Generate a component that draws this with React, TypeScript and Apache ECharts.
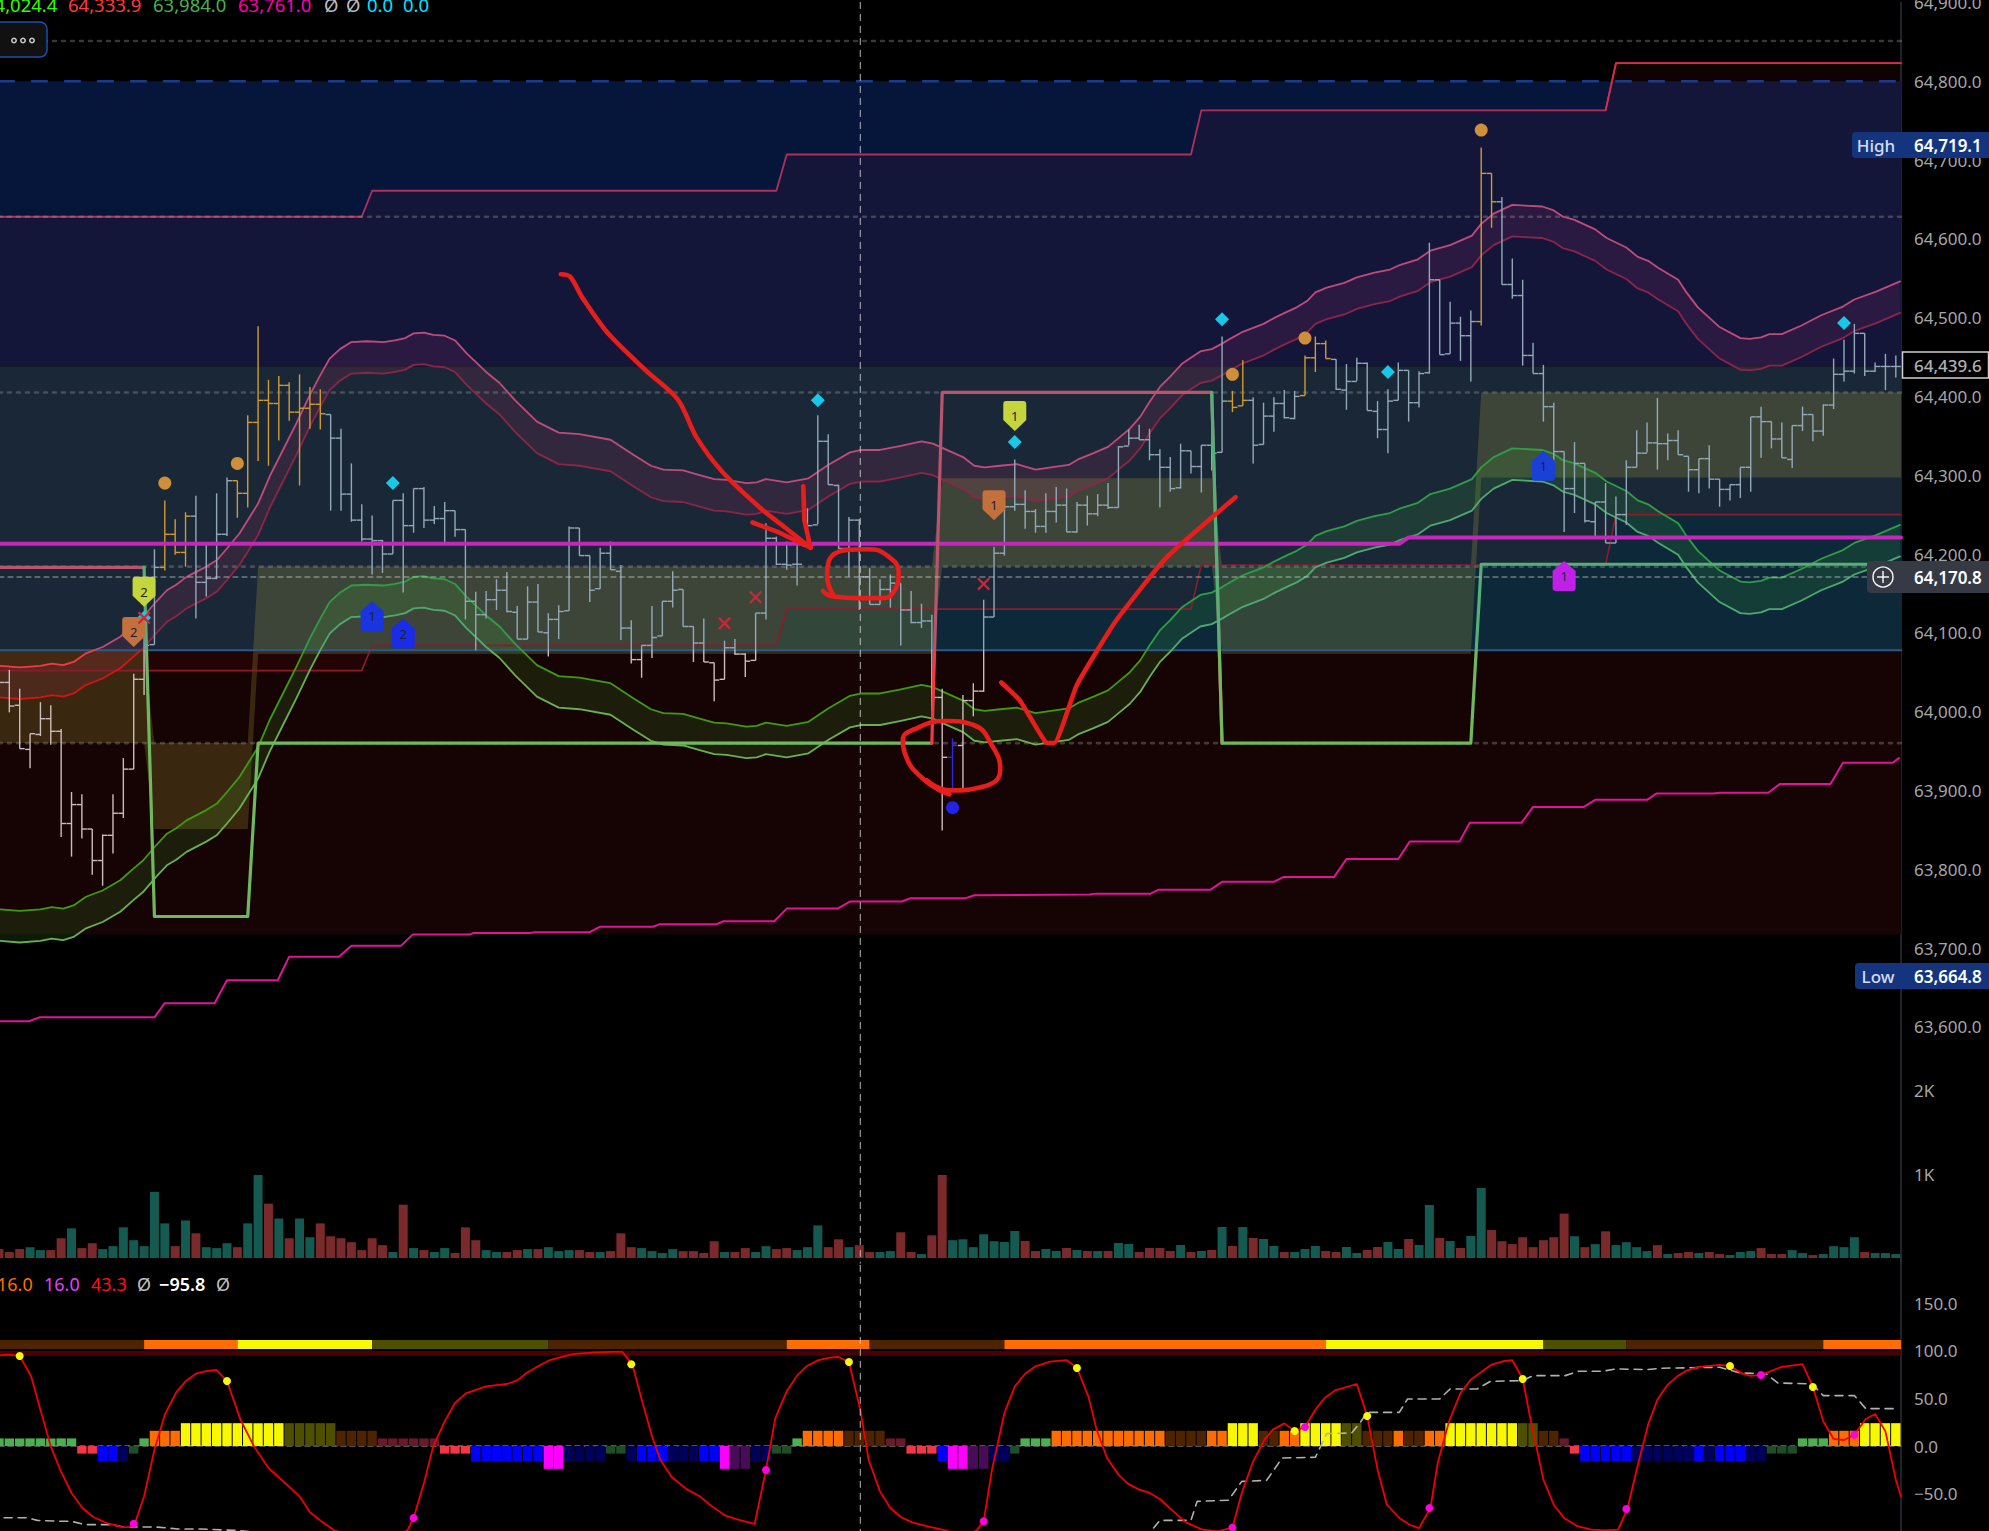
import React, { useEffect, useRef } from "react";
import * as echarts from "echarts";

const opens = [64040,64037,64008,63952,63971,63991,63975,63858,63882,63851,63811,63843,63871,63927,64041,64085,
64183,64225,64202,64248,64164,64169,64225,64293,64277,64367,64395,64391,64414,64380,64385,64390,
64377,64347,64276,64243,64219,64217,64200,64268,64236,64283,64243,64245,64255,64231,64140,64123,64142,
64154,64126,64092,64139,64100,64117,64128,64233,64198,64156,64201,64178,64106,64066,64084,64096,64140,64155,64108,64087,64062,64041,64081,64073,64065,64125,64220,64187,64187,64210,64237,64343,64287,64207,64243,64171,64136,64155,64163,64129,64113,64115,64018,63942,63957,64014,64026,64120,
64201,64260,64263,64254,64235,64254,64262,64228,64262,64251,64262,64259,64337,64347,64345,64326,64310,64284,64331,64311,64338,64329,64394,64388,64395,64339,64375,64391,64372,64401,64449,64467,64447,64408,64419,64442,64381,64358,64395,64433,64392,64430,64548,64454,64493,64477,64495,64683,
64647,64542,64528,64452,64429,64387,64330,64283,64315,64241,64266,64214,64250,64310,64328,64341,64340,64344,64324,64307,64321,64295,64282,64288,64310,64374,64368,64346,64320,64363,64377,64356,64389,64428,64432,64480,64432,64438,64438];
const highs = [64060,64053,64029,63972,64012,64008,63978,63898,63895,63851,63844,63895,63941,64048,64098,64206,
64268,64244,64253,64274,64213,64277,64297,64293,64376,64489,64421,64426,64418,64428,64412,64409,
64377,64359,64315,64263,64249,64218,64268,64277,64283,64285,64261,64266,64255,64231,64152,64153,64168,
64177,64134,64159,64162,64125,64135,64235,64233,64198,64208,64216,64186,64116,64084,64134,64140,64178,64155,64108,64118,64062,64090,64092,64074,64125,64239,64222,64216,64213,64258,64376,64352,64288,64247,64244,64182,64168,64174,64163,64153,64137,64123,64029,63966,64021,64036,64142,64209,
64270,64320,64281,64257,64277,64285,64283,64266,64274,64276,64290,64337,64358,64364,64359,64333,64323,64340,64331,64338,64368,64476,64407,64446,64399,64392,64399,64408,64407,64452,64476,64471,64447,64441,64449,64443,64394,64409,64443,64433,64432,64595,64548,64520,64501,64509,64716,64683,
64653,64575,64548,64468,64440,64392,64330,64342,64315,64266,64290,64273,64319,64357,64367,64398,64353,64357,64324,64321,64338,64295,64288,64310,64374,64387,64368,64367,64363,64387,64377,64390,64448,64472,64492,64480,64443,64454,64452];
const lows = [64020,63999,63953,63928,63969,63958,63841,63816,63839,63793,63779,63820,63865,63927,64021,64085,
64179,64199,64184,64118,64146,64168,64223,64246,64259,64318,64312,64344,64369,64287,64359,64358,
64255,64255,64241,64216,64174,64176,64200,64151,64227,64233,64238,64212,64222,64117,64078,64118,64129,
64126,64092,64092,64101,64070,64092,64128,64198,64139,64156,64180,64091,64061,64043,64068,64096,64132,64108,64063,64063,64013,64041,64072,64044,64065,64117,64186,64180,64160,64209,64238,64288,64207,64171,64129,64136,64136,64132,64084,64112,64106,64000,63849,63903,63903,63994,64025,64120,
64198,64255,64232,64227,64227,64240,64228,64227,64236,64248,64257,64259,64338,64345,64319,64259,64279,64283,64302,64278,64306,64329,64380,64388,64315,64339,64355,64372,64371,64401,64431,64448,64408,64383,64420,64382,64347,64328,64395,64368,64386,64429,64453,64454,64445,64419,64490,64614,
64542,64524,64439,64429,64368,64312,64228,64252,64240,64219,64214,64214,64237,64310,64329,64307,64319,64326,64279,64277,64283,64260,64268,64271,64279,64322,64334,64322,64309,64356,64343,64350,64384,64419,64429,64426,64431,64408,64424];
const closes = [64037,64007,63953,63972,63991,63975,63858,63882,63851,63811,63843,63871,63927,64041,64084,64183,
64225,64202,64248,64164,64169,64225,64293,64277,64367,64395,64391,64414,64380,64385,64390,64378,
64347,64276,64243,64219,64217,64200,64268,64236,64283,64243,64245,64255,64231,64140,64123,64142,64154,
64127,64092,64139,64101,64117,64127,64233,64198,64154,64201,64180,64106,64066,64084,64094,64140,64154,64108,64087,64063,64040,64081,64073,64064,64125,64220,64187,64186,64187,64236,64343,64288,64207,64243,64171,64136,64155,64163,64129,64113,64115,64018,63942,63957,64014,64026,64120,64201,
64260,64263,64254,64235,64254,64262,64228,64262,64251,64262,64259,64336,64347,64345,64326,64310,64283,64331,64311,64338,64328,64394,64386,64395,64338,64375,64391,64373,64400,64449,64467,64448,64409,64419,64442,64382,64358,64394,64433,64392,64429,64548,64453,64493,64477,64495,64683,64647,
64542,64528,64452,64429,64387,64330,64283,64315,64242,64266,64214,64250,64310,64328,64341,64340,64344,64326,64307,64321,64295,64282,64288,64310,64374,64368,64346,64322,64363,64377,64356,64389,64428,64432,64480,64432,64438,64438,64438];
const volumes = [106,71,106,129,94,94,235,353,118,176,106,141,365,212,141,788,412,141,447,294,129,118,176,129,412,988,647,470,235,470,247,412,259,235,188,94,235,153,71,635,118,94,71,118,59,365,212,94,71,71,94,106,106,129,82,94,94,71,71,82,294,129,118,82,59,106,82,82,59,200,71,71,118,71,141,106,118,94,129,388,129,223,129,153,71,71,82,306,71,47,270,988,212,223,129,282,200,
191,322,202,83,107,83,119,95,83,83,83,179,167,71,119,119,83,155,71,83,95,369,143,369,238,226,143,71,71,107,143,83,71,131,60,95,131,191,107,226,155,631,238,202,119,262,834,333,
200,165,247,129,212,247,529,259,129,165,318,153,188,129,82,153,47,59,71,59,71,47,35,71,82,118,47,47,94,59,35,47,141,129,247,71,59,59,47];
const orangeBars = [16,17,18,23,24,25,26,27,28,29,30,31,119,120,126,127,128,143,144];
const blueBars = [92];

const bandK = [0.1,2,4,5.1,6.2,7.2,8.4,10,11.7,13,13.9,15.2,16.2,17.1,18.1,20,21,22,23.2,25,26.1,27.4,28.7,30,31,31.9,32.9,34,35.5,37.1,38.2,39.2,40,41,41.9,43,44,45.1,47,48.3,
49.8,51.9,54,56,59,61.2,62.9,64.1,66,67.6,69,70.2,72.1,73.1,74,76,78.1,80,82.1,83.2,85,86.9,89,90.1,93,94.1,95.1,96.6,
98.2,100,102,103.2,104.1,105.6,107,108.1,109.1,110.1,111,112,113,114.1,115.1,115.9,117,118,118.9,120,122,123.1,124.2,125.2,126.2,127,128.1,129.8,131,132.7,134.2,135.2,136.9,138.1,140,142.1,143,144.2,
146,148.9,150,150.9,152,154,155.1,157,158.1,159.1,160.1,162,162.8,163.9,166,168,168.9,170,170.8,172,173.9,175.8,177.9,179,181.1,183.4];
const pinkUpper = [64058,64056,64058,64061,64059,64063,64074,64082,64095,64110,64120,64140,64154,64161,64171,64184,64192,64207,64226,64264,64298,64332,64366,64402,64427,64448,64460,64469,64470,64469,64471,64474,64480,64481,64478,64477,64471,64455,64431,64417,
64395,64368,64354,64352,64345,64326,64312,64307,64306,64300,64295,64294,64290,64291,64295,64291,64296,64313,64329,64332,64332,64337,64343,64340,64323,64312,64310,64312,
64314,64307,64311,64313,64320,64328,64336,64348,64359,64374,64393,64412,64425,64441,64450,64457,64460,64467,64474,64482,64492,64500,64507,64513,64521,64532,64538,64544,64551,64557,64561,64567,64574,64585,64592,64604,64619,64632,
64643,64641,64636,64628,64624,64612,64601,64589,64577,64572,64563,64548,64532,64513,64488,64474,64473,64475,64479,64479,64490,64503,64514,64523,64533,64546];
const pinkLower = [64018,64016,64018,64021,64019,64023,64034,64042,64055,64070,64080,64100,64114,64121,64131,64144,64152,64167,64186,64224,64258,64292,64326,64362,64387,64408,64420,64429,64430,64429,64431,64434,64440,64441,64438,64437,64431,64415,64391,64377,
64355,64328,64314,64312,64305,64286,64272,64267,64266,64260,64255,64254,64250,64251,64255,64251,64256,64273,64289,64292,64292,64297,64303,64300,64283,64272,64270,64272,
64274,64267,64271,64273,64280,64288,64296,64308,64319,64334,64353,64372,64385,64401,64410,64417,64420,64427,64434,64442,64452,64460,64467,64473,64481,64492,64498,64504,64511,64517,64521,64527,64534,64545,64552,64564,64579,64592,
64603,64601,64596,64588,64584,64572,64561,64549,64537,64532,64523,64508,64492,64473,64448,64434,64433,64435,64439,64439,64450,64463,64474,64483,64493,64506];
const greenUpper = [63749,63747,63749,63752,63750,63754,63765,63773,63786,63801,63811,63831,63845,63852,63862,63875,63883,63898,63917,63955,63989,64023,64057,64093,64118,64139,64151,64160,64161,64160,64162,64165,64171,64172,64169,64168,64162,64146,64122,64108,
64086,64059,64045,64043,64036,64017,64003,63998,63997,63991,63986,63985,63981,63982,63986,63982,63987,64004,64020,64023,64023,64028,64034,64031,64014,64003,64001,64003,
64005,63998,64002,64004,64011,64019,64027,64039,64050,64065,64084,64103,64116,64132,64141,64148,64151,64158,64165,64173,64183,64191,64198,64204,64212,64223,64229,64235,64242,64248,64252,64258,64265,64276,64283,64295,64310,64323,
64334,64332,64327,64319,64315,64303,64292,64280,64268,64263,64254,64239,64223,64204,64179,64165,64164,64166,64170,64170,64181,64194,64205,64214,64224,64237];
const greenLower = [63709,63707,63709,63712,63710,63714,63725,63733,63746,63761,63771,63791,63805,63812,63822,63835,63843,63858,63877,63915,63949,63983,64017,64053,64078,64099,64111,64120,64121,64120,64122,64125,64131,64132,64129,64128,64122,64106,64082,64068,
64046,64019,64005,64003,63996,63977,63963,63958,63957,63951,63946,63945,63941,63942,63946,63942,63947,63964,63980,63983,63983,63988,63994,63991,63974,63963,63961,63963,
63965,63958,63962,63964,63971,63979,63987,63999,64010,64025,64044,64063,64076,64092,64101,64108,64111,64118,64125,64133,64143,64151,64158,64164,64172,64183,64189,64195,64202,64208,64212,64218,64225,64236,64243,64255,64270,64283,
64294,64292,64287,64279,64275,64263,64252,64240,64228,64223,64214,64199,64183,64164,64139,64125,64124,64126,64130,64130,64141,64154,64165,64174,64184,64197];

const stepK = [0,35,36,75,76,115,116,155,156,183.5];
const resistance = [64628,64628,64661,64661,64707,64707,64763,64763,64823,64823];
const support = [64052,64052,64084,64084,64130,64130,64186,64186,64250,64250];
const boxK = [0,14,15,24,25,90,91,117,118,142,143,183.5];
const boxTop = [64078,64078,63960,63960,64184,64184,64296,64296,64184,64184,64405,64405];
const boxBottom = [63960,63960,63851,63851,64073,64073,64184,64184,64073,64073,64297,64297];
const trendLine = [64183,64183,63740,63740,63960,63960,64405,64405,63960,63960,64187,64187];
const slowK = [0,2.9,3.9,15,16,20.8,22,26.9,28,32.8,34,38.8,39.9,45.4,45.8,51.2,51.7,57,58,63.1,63.7,69.2,69.9,74.8,76,80.9,82.1,87.1,87.9,93.2,94.1,105.2,105.8,111.1,111.9,116.9,118,123,123.9,128.8,130,135,136.1,140.9,141.9,146.9,148,152.9,154,159,159.9,165.4,166,170.7,171.8,176.7,177.9,182.7,183.3];
const slowLine = [63607,63607,63612,63612,63630,63630,63659,63659,63689,63689,63703,63703,63717,63717,63719,63719,63720,63720,63727,63727,63730,63730,63734,63734,63750,63750,63759,63759,63763,63763,63767,63768,63769,63769,63774,63774,63784,63784,63790,63790,63813,63813,63835,63835,63859,63859,63879,63879,63888,63888,63896,63896,63897,63897,63908,63908,63935,63935,63941];
const midK = [0,135.1,136,183.5];
const midLine = [64213,64213,64221,64221];
const dottedLevels = [64851,64628,64405,64184,63960];

const goldK = [16,23,119,126,143];
const goldP = [64290,64315,64428,64474,64738];
const diamondK = [14,38,79,98,118,134,178];
const diamondP = [64119,64290,64395,64342,64498,64431,64493];
const crossK = [0,14,70,73,95];
const crossP = [64078,64119,64112,64145,64162];
const lowDotK = [92];
const lowDotP = [63878];
const pinLabels = ["2","2","1","1"];
const pinK = [14,13,98,96];
const pinP = [64152,64101,64375,64262];
const pinColors = ["#c4d63c","#c4703c","#c4d63c","#c4703c"];
const houseLabels = ["1","2","1","1"];
const houseK = [36,39,149,151];
const houseP = [64121,64099,64312,64172];
const houseColors = ["#1a34e0","#1a2ce8","#1a40d8","#c020e8"];

const oscK = [0.1,1,2,3.1,4,5,5.9,7,8.05,9.1,10.4,11.9,12.6,13.1,14,15,16,17.1,18,19,20.1,21,22,23.3,24.6,26,27.6,29,30,31.1,32.4,34.5,36.7,39.4,40,41,41.9,43,44,45.1,47,49,50,50.9,52,53,54.3,55.4,57.4,60.1,61.1,62.1,63,63.8,64.9,66.4,67.6,68.7,70.1,71.3,72.9,74,74.9,76,77,77.9,79,80.1,81,82,83.1,83.9,85,86,87,88.1,89.6,91.3,93,94.3,95,95.8,97,98,99,100,101.4,103,104,105.1,105.9,106.9,108,108.9,110,110.9,112,113.3,114.5,116.1,117.6,119,119.9,121,122.1,122.9,124,125,126,127,127.9,128.9,131,132,133,133.9,135.1,136.1,137,138.1,138.8,139.9,141,142,144,145.1,146,147,147.7,149,150,151,152.2,153.6,154.9,156.2,157.1,158,159.1,160,161,162,162.9,164,166,167,168.2,169,170,170.9,172,174,175,176,177,178,179,180.1,181,182,183,183.5];
const oscLine = [95.3,96,94.6,73.3,38.2,-0.4,-24.9,-49.4,-65.2,-74.7,-81,-85.2,-85.2,-81.7,-52.9,-3.9,32.9,56.4,68,76,78.9,79.9,68.3,27.7,-0.4,-23.1,-38.9,-52.9,-69.7,-79.2,-89,-95,-100,-89,-75.7,-38.9,-0.4,25.9,45.2,55.7,62.7,65.2,69,76.8,83.8,89.7,93.6,96.7,98.5,99.2,85.9,45.2,10.2,-14.4,-32.6,-45.9,-52.9,-62.7,-73.3,-77.5,-82,-25.2,29.4,57.5,74,83.8,90,92.9,93.6,88.3,38.2,-14.4,-47.7,-65.2,-74.7,-80.3,-84.5,-88.7,-95,-89,-79.2,-24.9,34.7,62.7,76,83.8,88.7,90.4,82,52.2,17.2,-12.6,-30.1,-39.6,-45.9,-48.7,-55.7,-68.7,-80.3,-88,-89.7,-85.9,-49.4,-16.1,6.7,17.2,23.8,15.8,20,38.2,50.5,58.5,65.2,31.5,-24.9,-61.7,-75.7,-82.8,-86.3,-65.3,-17.9,26,55.8,69.8,85.6,89.1,90.2,70.5,31.2,-35.4,-61.8,-75.8,-83.9,-88,-88.8,-88,-66.3,-24.9,22.5,48.8,64.6,74,79.6,83.2,85.3,84.2,76.1,73.7,74.7,78.6,83.2,86,62.1,26,7.4,6.3,11.9,28.4,33.7,15.4,-35.4,-53];
const oscSlowK = [0.5,2.7,3.7,5.9,7,8.3,10.9,12,15.2,17.3,19.5,23.3,28];
const oscSlow = [-75.4,-75.4,-78.2,-79.2,-79.2,-82.7,-82.7,-85.2,-85.2,-87.3,-87.3,-89,-95];
const oscSlow2K = [111.4,112,115,115.6,118.6,119.9,122.3,123.8,127,128.1,130.5,131.3,132,135.1,135.9,139,140,142.6,143.9,147,148,151.1,152.4,154.7,156,159,160.4,166,168,170.5,171.6,174.9,176,179,180.1,182.8,183.2];
const oscSlow2 = [-86.2,-78.2,-78.2,-58.2,-57.1,-37.2,-36.1,-12.6,-11.9,13,13.7,24.2,35.4,35.4,49.5,49.5,60,60,68,68.8,74,74,78.6,78.6,81,80.4,81.8,82.8,76.8,76,66.3,65.3,53,53,39.3,39.3,36.5];
const yellowDotK = [2,22,61,82,104,125,132,147,167,175];
const yellowDot = [94.6,68.3,85.9,88.3,82,15.8,31.5,70.5,84.2,62.1];
const magentaDotK = [13,40,74,95,119,126,138,157,170,179];
const magentaDot = [-81.7,-75.7,-25.2,-79.2,-85.9,20,-65.3,-66.3,74.7,11.9];

const histRuns: [string, number][] = [["g",8],["r",2],["b",2],["n",1],["d",1],["g",1],["o",3],["y",10],["l",5],["w",4],["m",6],["r",3],["b",7],["p",2],["n",4],["d",2],["n",1],["b",3],["n",3],["b",2],["p",1],["u",2],["n",2],["d",2],["g",1],["o",4],["w",4],["m",2],["r",3],["b",1],["p",2],["u",2],["n",2],["d",1],["g",3],["o",11],["w",4],["o",2],["y",3],["w",2],["o",2],["y",4],["l",2],["w",3],["o",1],["w",2],["o",2],["y",7],["l",2],["w",2],["m",1],["r",1],["b",5],["n",6],["b",1],["n",1],["b",3],["n",2],["d",3],["g",3],["o",3],["y",4]];
const histValue: Record<string, number> = { g:8, r:-8, b:-16, n:-16, d:-8, o:16, y:24, l:24, w:16, m:8, p:-24, u:-24 };
const histColor: Record<string, string> = { g:"#4caf50", r:"#f23645", b:"#0000ff", n:"#00005c", d:"#1f4d27", o:"#ff6d00", y:"#f8f800", l:"#4f4f00", w:"#4e2300", m:"#661a2a", p:"#ff00ff", u:"#4a0a5a" };
const ribbonBreaks = [0,14,23,36,53,76,84,97,128,149,157,176,183.5];
const ribbonColors = ["w","o","y","l","w","o","w","o","y","l","w","o"];

const arrowK = [54.2,55.1,56.3,58.7,62.4,65.5,67.3,69.8,73.4,75.9,78.3];
const arrowP = [64555,64552,64525,64481,64433,64396,64348,64304,64259,64233,64208];
const barbAK = [72.7,75.3,78.3];
const barbAP = [64240,64227,64208];
const barbBK = [77.6,77.7,78.3];
const barbBP = [64286,64243,64208];
const ringAK = [79.5,80.5,83.1,85.3,86.4,86.8,85.8,83.7,81.8,80,79.9,80.5];
const ringAP = [64153,64146,64144,64144,64154,64175,64197,64206,64205,64188,64171,64148];
const ringBK = [91.7,89.3,87.4,87.2,88.2,91.4,94,95.9,96.6,95,91.7,89.5];
const ringBP = [63895,63913,63947,63964,63977,63988,63983,63955,63926,63905,63900,63913];
const checkK = [96.7,98.5,101,101.8,104,107.7,112.6,119.3];
const checkP = [64037,64014,63961,63960,64034,64114,64195,64272];

const priceTicks = { min: 63300, max: 64900, interval: 100, hideBelow: 63600 };
const priceTags = { high: "64,719.1", low: "63,664.8", last: "64,439.6", cross: "64,170.8" };
const topLegend = ["64,024.4","64,333.9","63,984.0","63,761.0","Ø","Ø","0.0","0.0"];
const oscLegend = ["16.0","16.0","43.3","Ø","−95.8","Ø"];

const FONT = '"Noto Sans", sans-serif';
const ZONE_SPLIT = 650.1 / 1531;
const split = (above: string, below: string) =>
  new echarts.graphic.LinearGradient(0, 0, 0, 1531, [
    { offset: 0, color: above },
    { offset: ZONE_SPLIT, color: above },
    { offset: ZONE_SPLIT, color: below },
    { offset: 1, color: below },
  ], true);

const pairs = (xs: number[], ys: number[]) => xs.map((x, i) => [x, ys[i]]);

const poly = (name: string, xs: number[], tops: number[], bots: number[], fill: string, z: number, axis = 0) => ({
  type: "custom", name, coordinateSystem: "cartesian2d", xAxisIndex: axis, yAxisIndex: axis, z, silent: true, clip: true,
  data: [[xs[0], tops[0]]],
  renderItem: (_p: any, api: any) => ({
    type: "polygon",
    shape: { points: [...xs.map((x, i) => api.coord([x, tops[i]])), ...xs.map((x, i) => api.coord([x, bots[i]])).reverse()] },
    style: { fill },
  }),
});

const line = (name: string, xs: number[], ys: number[], color: any, width: number, z: number, axis = 0, dash?: any, smooth: any = false) => ({
  type: "line", name, xAxisIndex: axis, yAxisIndex: axis, z, silent: true, symbol: "none", smooth,
  data: pairs(xs, ys),
  lineStyle: { color, width, type: dash || "solid", cap: "round", join: "round" },
});

const dots = (name: string, xs: number[], ys: number[], color: string, size: number, z: number, axis = 0, symbol = "circle") => ({
  type: "scatter", name, xAxisIndex: axis, yAxisIndex: axis, z, silent: true, symbol, symbolSize: size,
  data: pairs(xs, ys), itemStyle: { color, opacity: 1 },
});

const flags = (name: string, xs: number[], ys: number[], labels: string[], colors: string[], symbol: string, z: number) => ({
  type: "scatter", name, xAxisIndex: 0, yAxisIndex: 0, z, silent: true, symbol, symbolSize: [23, 30],
  data: xs.map((x, i) => ({
    value: [x, ys[i]],
    itemStyle: { color: colors[i], opacity: 1 },
    label: { show: true, formatter: labels[i], position: "inside", color: "#1b2433", fontSize: 13, fontFamily: FONT },
  })),
});

const fmtPrice = (v: number) => v.toLocaleString("en-US", { minimumFractionDigits: 1, maximumFractionDigits: 1 });

function buildOption() {
  const barIdx = opens.map((_, i) => i);
  const hist: any[] = [];
  let k = 0;
  histRuns.forEach(([c, n]) => {
    for (let j = 0; j < n; j++) hist.push({ value: [k++, histValue[c]], itemStyle: { color: histColor[c] } });
  });
  const barStroke = split("#92a8b8", "#cbbcbc");
  const ribbon = ribbonColors.map((c, i) =>
    poly("ribbon" + i, [ribbonBreaks[i], ribbonBreaks[i + 1]], [111.5, 111.5], [102, 102], histColor[c], 3, 2));

  const series: any[] = [
    poly("zoneTop", [0, 183.5], [64800, 64800], [64438, 64438], "#06163a", 1),
    poly("zoneMid", [0, 183.5], [64438, 64438], [64078, 64078], "#0d2838", 1),
    poly("zoneLow", [0, 183.5], [64078, 64078], [63717, 63717], "#160303", 1),
    poly("rangeTint", stepK, resistance, support, "rgba(255,30,60,0.056)", 2),
    poly("box", boxK, boxTop, boxBottom, "rgba(210,200,70,0.19)", 3),
    poly("pinkBand", bandK, pinkUpper, pinkLower, "rgba(230,50,120,0.115)", 4),
    poly("greenBand", bandK, greenUpper, greenLower, "rgba(70,190,60,0.14)", 4),
    line("resistance", stepK, resistance, "#b0305c", 1.8, 5),
    line("resistanceTop", stepK.slice(7), resistance.slice(7), "#d82c44", 1.8, 5),
    line("support", stepK, support, "#8c1c2c", 1.6, 5),
    ...dottedLevels.map((lv, i) => line("dot" + i, [0, 183.5], [lv, lv], "rgba(150,150,150,0.36)", 2.6, 5, 0, [3, 6])),
    line("level64800", [0, 183.5], [64800, 64800], "#1a3a8c", 2.4, 5, 0, [15, 18]),
    line("level64078", [0, 183.5], [64078, 64078], "#2c5a88", 2, 5),
    line("slow", slowK, slowLine, "#e0149a", 2, 5),
    line("pinkU", bandK, pinkUpper, split("#c04a7a", "#f03a4a"), 1.8, 6),
    line("pinkL", bandK, pinkLower, split("#8c2448", "#d41414"), 1.8, 6),
    line("greenU", bandK, greenUpper, split("#2f9d45", "#3f9a10"), 1.8, 6),
    line("greenL", bandK, greenLower, split("#4ea870", "#6bb04c"), 1.8, 6),
    {
      type: "custom", name: "bars", coordinateSystem: "cartesian2d", xAxisIndex: 0, yAxisIndex: 0, z: 7, silent: true,
      data: barIdx.map((i) => [i, opens[i], highs[i], lows[i], closes[i]]),
      renderItem: (_p: any, api: any) => {
        const i = api.value(0);
        const [x, yH] = api.coord([i, api.value(2)]);
        const [, yL] = api.coord([i, api.value(3)]);
        const [, yO] = api.coord([i, api.value(1)]);
        const [, yC] = api.coord([i, api.value(4)]);
        const stroke = orangeBars.includes(i) ? "#d29a32" : blueBars.includes(i) ? "#2a2ae0" : barStroke;
        const style = { stroke, lineWidth: 1.4 };
        return {
          type: "group",
          children: [
            { type: "line", shape: { x1: x, y1: yH, x2: x, y2: yL }, style },
            { type: "line", shape: { x1: x - 5, y1: yO, x2: x, y2: yO }, style },
            { type: "line", shape: { x1: x, y1: yC, x2: x + 5, y2: yC }, style },
          ],
        };
      },
    },
    line("mid", midK, midLine, "#c428b8", 4, 8),
    line("trendA", boxK.slice(0, 2), trendLine.slice(0, 2), "#b8556e", 3.2, 8),
    line("trendB", boxK.slice(1, 6), trendLine.slice(1, 6), split("#55b078", "#6fb85c"), 3.2, 8),
    line("trendC", boxK.slice(5, 9), trendLine.slice(5, 9), split("#b8556e", "#f03a40"), 3.2, 8),
    line("trendD", boxK.slice(7), trendLine.slice(7), split("#55b078", "#6fb85c"), 3.2, 8),
    line("crossH", [0, 183.5], [64170.8, 64170.8], "rgba(205,205,205,0.75)", 1.2, 9, 0, [5, 4]),
    line("crossV", [83.1, 83.1], [64900, 63300], "rgba(205,205,205,0.75)", 1.2, 9, 0, [6, 6]),
    dots("gold", goldK, goldP, "#cf8e3a", 13, 10),
    dots("diamonds", diamondK, diamondP, "#18c8e8", 14, 10, 0, "diamond"),
    dots("crosses", crossK, crossP, "#c8283c", 13, 11, 0, "path://M2,0 L8,6 L14,0 L16,2 L10,8 L16,14 L14,16 L8,10 L2,16 L0,14 L6,8 L0,2 Z"),
    dots("lowDot", lowDotK, lowDotP, "#2222e8", 13, 10),
    flags("pins", pinK, pinP, pinLabels, pinColors, "path://M3,0 H20 Q23,0 23,3 V19 L11.5,30 L0,19 V3 Q0,0 3,0 Z", 10),
    flags("houses", houseK, houseP, houseLabels, houseColors, "path://M11.5,0 L23,10 V27 Q23,30 20,30 H3 Q0,30 0,27 V10 Z", 10),
    line("annArrow", arrowK, arrowP, "#e81e1c", 4.6, 20, 0, undefined, 0.3),
    line("annBarbA", barbAK, barbAP, "#e81e1c", 4.6, 20),
    line("annBarbB", barbBK, barbBP, "#e81e1c", 4.6, 20),
    line("annRingA", ringAK, ringAP, "#e81e1c", 4.6, 20, 0, undefined, 0.5),
    line("annRingB", ringBK, ringBP, "#e81e1c", 4.6, 20, 0, undefined, 0.5),
    line("annCheck", checkK, checkP, "#e81e1c", 4.6, 20, 0, undefined, 0.15),
    {
      type: "bar", name: "volume", xAxisIndex: 1, yAxisIndex: 1, z: 3, silent: true, barWidth: 9,
      data: volumes.map((v, i) => ({
        value: [i, v],
        itemStyle: { color: closes[i] >= opens[i] ? "#155a50" : "#7a2a2a" },
      })),
    },
    ...ribbon,
    poly("ob", [0, 183.5], [100, 100], [95, 95], "#4a0000", 3, 2),
    line("zeroLine", [0, 183.5], [0, 0], "#a8a8a8", 1.2, 3, 2, [5, 4]),
    { type: "bar", name: "hist", xAxisIndex: 2, yAxisIndex: 2, z: 4, silent: true, barWidth: 9.4, data: hist },
    line("oscSlowA", oscSlowK, oscSlow, "#b0b0b0", 1.6, 5, 2, [8, 6]),
    line("oscSlowB", oscSlow2K, oscSlow2, "#b0b0b0", 1.6, 5, 2, [8, 6]),
    line("osc", oscK, oscLine, "#f00000", 1.8, 6, 2),
    dots("yellowDots", yellowDotK, yellowDot, "#f8f800", 8, 7, 2),
    dots("magentaDots", magentaDotK, magentaDot, "#ff00e0", 8, 7, 2),
    line("crossV2", [83.1, 83.1], [190, -100], "rgba(205,205,205,0.75)", 1.2, 9, 2, [6, 6]),
  ];

  const xAxisBase = { type: "value", min: 0.1, max: 183.5, show: false };
  const axisLabelBase = { color: "#a6a6a6", fontSize: 17, fontFamily: FONT, margin: 13 };
  const axisLine = { show: true, lineStyle: { color: "#2a2e39", width: 1.5 } };

  const tag = (x: number, y: number, w: number, h: number, fill: string, r: any, stroke?: string) => ({
    type: "rect", z: 100, shape: { x, y, width: w, height: h, r }, style: { fill, stroke, lineWidth: stroke ? 1.5 : 0 },
  });
  const text = (x: number, y: number, s: string, fill: string, size = 17, weight: any = "normal", align = "left") => ({
    type: "text", z: 101, x, y,
    style: { text: s, fill, fontSize: size, fontFamily: FONT, fontWeight: weight, align, verticalAlign: "middle" },
  });

  const topX = [-16, 68, 153, 238, 324, 346, 367, 403];
  const topC = ["#2fff00", "#ff3b3b", "#4caf50", "#ff00aa", "#bdbdbd", "#bdbdbd", "#00e5ff", "#00e5ff"];
  const oscX = [-3, 44, 91, 137, 159, 216];
  const oscC = ["#ff6d00", "#e040fb", "#ff1010", "#c0c0c0", "#ffffff", "#c0c0c0"];

  const graphic = [
    ...topLegend.map((s, i) => text(topX[i], 4, s, topC[i], 18.5)),
    ...oscLegend.map((s, i) => text(oscX[i], 1284, s, oscC[i], 18, i === 4 ? 600 : "normal")),
    tag(-10, 22, 57, 35, "#111111", 7, "#1a4fb0"),
    ...[14, 23, 32].map((x) => ({ type: "circle", z: 101, shape: { cx: x, cy: 40.5, r: 2.2 }, style: { fill: "none", stroke: "#cfcfcf", lineWidth: 1.5 } })),
    tag(1852, 132, 49, 26, "#14357e", [4, 0, 0, 4]),
    tag(1901, 132, 88, 26, "#14357e", 0),
    text(1876, 145, "High", "#d4dcf2", 17, 500, "center"),
    text(1914, 145, priceTags.high, "#ffffff", 17, 600),
    tag(1855, 963, 46, 26, "#14357e", [4, 0, 0, 4]),
    tag(1901, 963, 88, 26, "#14357e", 0),
    text(1878, 976, "Low", "#d4dcf2", 17, 500, "center"),
    text(1914, 976, priceTags.low, "#ffffff", 17, 600),
    tag(1902.5, 352, 86, 26, "#000000", 0, "#d0d0d0"),
    text(1914, 365, priceTags.last, "#b0b0b0", 17, 500),
    tag(1867, 561, 122, 32, "#363a45", [4, 0, 0, 4]),
    { type: "circle", z: 101, shape: { cx: 1883, cy: 577, r: 10 }, style: { fill: "none", stroke: "#ffffff", lineWidth: 1.4 } },
    { type: "line", z: 101, shape: { x1: 1877, y1: 577, x2: 1889, y2: 577 }, style: { stroke: "#ffffff", lineWidth: 1.4 } },
    { type: "line", z: 101, shape: { x1: 1883, y1: 571, x2: 1883, y2: 583 }, style: { stroke: "#ffffff", lineWidth: 1.4 } },
    text(1914, 577, priceTags.cross, "#ffffff", 17, 600),
  ];

  return {
    animation: false,
    backgroundColor: "#000000",
    grid: [
      { left: 0, width: 1901, top: 2.4, height: 1260.8, outerBoundsMode: "none" },
      { left: 0, width: 1901, top: 1090, height: 168, outerBoundsMode: "none" },
      { left: 0, width: 1901, top: 1255.8, height: 285.3, outerBoundsMode: "none" },
    ],
    xAxis: [{ ...xAxisBase, gridIndex: 0 }, { ...xAxisBase, gridIndex: 1 }, { ...xAxisBase, gridIndex: 2 }],
    yAxis: [
      {
        type: "value", gridIndex: 0, position: "right", min: priceTicks.min, max: priceTicks.max, interval: priceTicks.interval,
        splitLine: { show: false }, axisTick: { show: false }, axisLine,
        axisLabel: { ...axisLabelBase, formatter: (v: number) => (v < priceTicks.hideBelow ? "" : fmtPrice(v)) },
      },
      {
        type: "value", gridIndex: 1, position: "right", min: 0, max: 2000, interval: 1000,
        splitLine: { show: false }, axisTick: { show: false }, axisLine: { show: false },
        axisLabel: { ...axisLabelBase, formatter: (v: number) => (v === 0 ? "" : `${v / 1000}K`) },
      },
      {
        type: "value", gridIndex: 2, position: "right", min: -100, max: 200, interval: 50,
        splitLine: { show: false }, axisTick: { show: false }, axisLine,
        axisLabel: { ...axisLabelBase, formatter: (v: number) => (v >= 200 || v <= -100 ? "" : v < 0 ? "−" + Math.abs(v).toFixed(1) : v.toFixed(1)) },
      },
    ],
    series,
    graphic,
  };
}

export default function App() {
  const ref = useRef<HTMLDivElement>(null);
  useEffect(() => {
    document.body.style.margin = "0";
    document.body.style.background = "#000";
    const chart = echarts.init(ref.current as HTMLDivElement, undefined, { renderer: "svg" });
    chart.setOption(buildOption() as any);
    return () => chart.dispose();
  }, []);
  return <div ref={ref} style={{ position: "absolute", left: 0, top: 0, width: 1989, height: 1531, overflow: "hidden", background: "#000" }} />;
}
